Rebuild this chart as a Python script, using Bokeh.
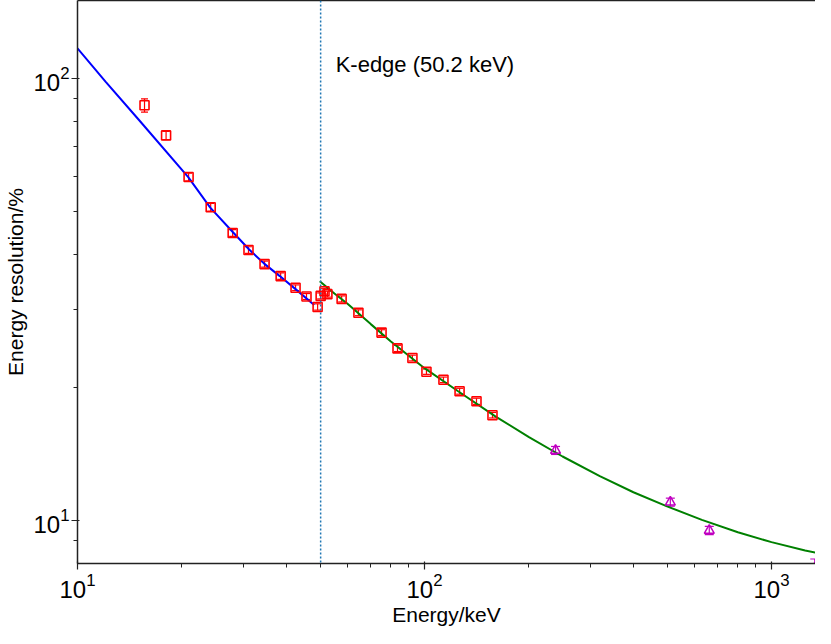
from bokeh.plotting import figure
from bokeh.models import (LogAxis, FixedTicker, Span, Label, Whisker, TeeHead,
                          ColumnDataSource, Range1d, LogTickFormatter)
from bokeh.embed import file_html
from bokeh.resources import INLINE

# ---- data ----
red_energy = [15.6, 18.0, 20.9, 24.2, 28.0, 31.1, 34.6, 38.5, 42.5, 45.7, 49.2, 50.2,
              51.5, 52.5, 57.7, 64.5, 75.2, 83.6, 92.3, 101.3, 113.4, 126.2, 141.2, 157.0]
red_res = [86.9, 74.3, 59.8, 51.1, 44.7, 40.9, 38.0, 35.7, 33.6, 32.1, 30.4, 32.2,
           33.0, 32.5, 31.7, 29.5, 26.6, 24.5, 23.3, 21.7, 20.8, 19.6, 18.6, 17.3]
red_err = [3.0, 1.6, 1.2, 1.0, 0.8, 0.7, 0.6, 0.6, 0.5, 0.5, 0.5, 0.5,
           0.5, 0.5, 0.5, 0.45, 0.4, 0.4, 0.35, 0.3, 0.3, 0.3, 0.3, 0.25]

mag_energy = [238.6, 511.0, 661.7, 1332.5]
mag_res = [14.4, 11.0, 9.49, 7.8]
mag_err = [0.3, 0.23, 0.2, 0.38]

blue_fit_energy = [10.0, 12.06, 15.06, 20.85, 24.13, 28.10, 31.24, 34.51, 38.28, 42.41, 48.09]
blue_fit_res = [116.9, 98.2, 80.4, 59.8, 51.0, 44.8, 41.0, 38.1, 35.7, 33.4, 30.7]

green_fit_energy = [49.9, 55.0, 60.0, 70.0, 80.0, 100.0, 125.0, 160.0, 200.0, 250.0,
                    320.0, 400.0, 500.0, 630.0, 800.0, 1000.0, 1250.0, 1412.0]
green_fit_res = [34.76, 32.6, 30.9, 27.8, 25.4, 22.1, 19.6, 17.2, 15.43, 13.95,
                 12.59, 11.58, 10.76, 10.03, 9.40, 8.93, 8.55, 8.38]

k_edge = 50.2
x_major = [10, 100, 1000]
x_minor = [20, 30, 40, 50, 60, 70, 80, 90, 200, 300, 400, 500, 600, 700, 800, 900]
y_major = [10, 100]
y_minor = [9, 20, 30, 40, 50, 60, 70, 80, 90]

FONT = "Liberation Sans"

p = figure(width=815, height=628, x_axis_type="log", y_axis_type="log",
           x_range=Range1d(10, 1339), y_range=Range1d(7.99, 150),
           output_backend="svg", toolbar_location=None,
           min_border_left=77, min_border_right=0, min_border_top=0,
           min_border_bottom=64)
p.grid.visible = False
p.outline_line_color = None
p.background_fill_color = "white"
p.border_fill_color = "white"

for ax, major, minor in ((p.xaxis[0], x_major, x_minor), (p.yaxis[0], y_major, y_minor)):
    ax.ticker = FixedTicker(ticks=major, minor_ticks=minor)
    ax.formatter = LogTickFormatter()
    ax.major_label_text_font = FONT
    ax.major_label_text_font_size = "24px"
    ax.major_label_text_color = "black"
    ax.axis_label_text_font = FONT
    ax.axis_label_text_font_size = "21px"
    ax.axis_label_text_font_style = "normal"
    ax.axis_label_text_color = "black"
    ax.axis_line_color = "#222222"
    ax.axis_line_width = 1.5
    ax.major_tick_line_color = "#222222"
    ax.minor_tick_line_color = "#222222"
    ax.major_tick_line_width = 1.2
    ax.minor_tick_line_width = 1.0
    ax.major_tick_in = 2
    ax.major_tick_out = 6
    ax.minor_tick_in = 0
    ax.minor_tick_out = 4
    ax.major_label_standoff = 3

p.xaxis.axis_label = "Energy/keV"
p.yaxis.axis_label = "Energy resolution/%"
p.xaxis.axis_label_standoff = 2
p.yaxis.axis_label_standoff = 3
p.yaxis.major_label_standoff = 2

top = LogAxis(ticker=FixedTicker(ticks=[]), major_label_text_font_size="0px",
              major_tick_out=0, major_tick_in=0, minor_tick_out=0, minor_tick_in=0,
              axis_line_color="#222222", axis_line_width=1.5, major_label_standoff=0)
p.add_layout(top, "above")

# K-edge marker
p.add_layout(Span(location=k_edge, dimension="height", line_color="#1f77b4",
                  line_width=1.5, line_dash="2 2"))
p.add_layout(Label(x=k_edge, y=107.5, x_offset=15, text="K-edge (50.2 keV)",
                   text_font=FONT, text_font_size="22px", text_color="black",
                   text_baseline="alphabetic"))

# fit curves
p.line(blue_fit_energy, blue_fit_res, line_color="#0000ff", line_width=2)
p.line(green_fit_energy, green_fit_res, line_color="#008000", line_width=2)

# red points with error bars
red_src = ColumnDataSource(dict(x=red_energy, y=red_res,
                                lo=[r - e for r, e in zip(red_res, red_err)],
                                hi=[r + e for r, e in zip(red_res, red_err)]))
p.add_layout(Whisker(source=red_src, base="x", lower="lo", upper="hi",
                     line_color="#ff0000", line_width=1.2,
                     lower_head=TeeHead(size=7, line_color="#ff0000", line_width=1.2),
                     upper_head=TeeHead(size=7, line_color="#ff0000", line_width=1.2)))
p.scatter("x", "y", source=red_src, marker="square", size=9, fill_color=None,
          line_color="#ff0000", line_width=1.6)

mag_src = ColumnDataSource(dict(x=mag_energy, y=mag_res,
                                lo=[r - e for r, e in zip(mag_res, mag_err)],
                                hi=[r + e for r, e in zip(mag_res, mag_err)]))
p.add_layout(Whisker(source=mag_src, base="x", lower="lo", upper="hi",
                     line_color="#c000c0", line_width=1.2,
                     lower_head=TeeHead(size=9, line_color="#c000c0", line_width=1.2),
                     upper_head=TeeHead(size=9, line_color="#c000c0", line_width=1.2)))
p.scatter("x", "y", source=mag_src, marker="triangle", size=10, fill_color=None,
          line_color="#c000c0", line_width=1.5)

open("out.html", "w").write(file_html(p, INLINE))
